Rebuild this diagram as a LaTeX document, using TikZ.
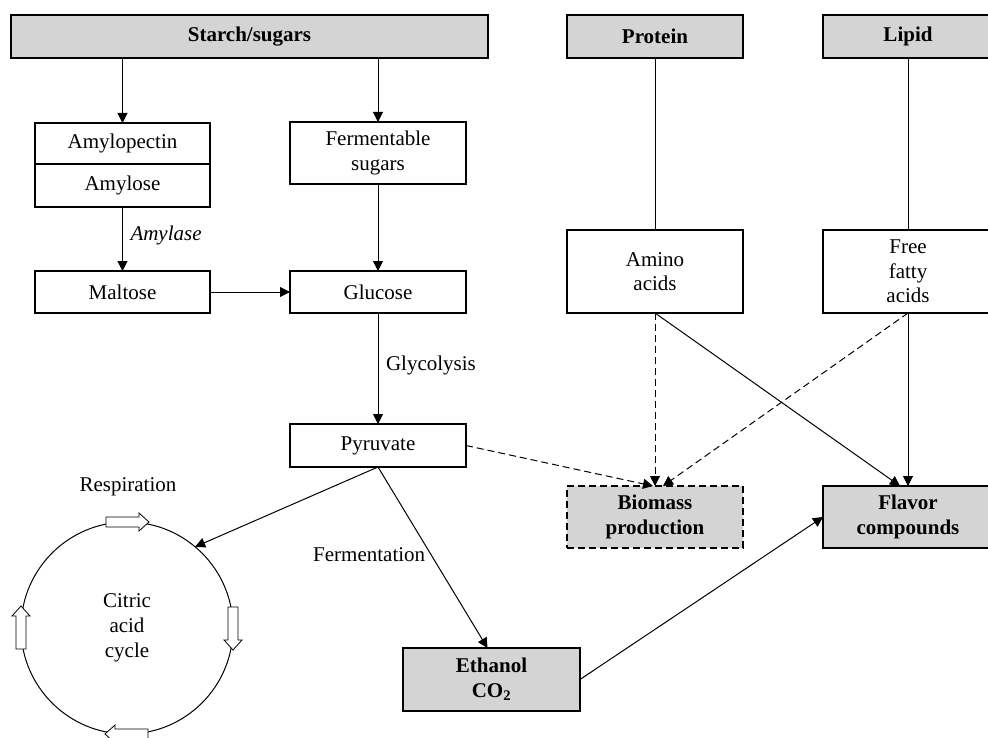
\documentclass[tikz,border=0pt]{standalone}
\usepackage{fontspec}
\setmainfont{Liberation Serif}
\usetikzlibrary{arrows.meta}
\definecolor{boxgray}{RGB}{212,212,212}
\begin{document}
\begin{tikzpicture}[x=1pt,y=-1pt,
  every node/.style={font=\fontsize{21}{24.5}\selectfont, inner sep=0pt, outer sep=0pt},
  box/.style={draw, line width=1.1pt, rectangle, align=center},
  gbox/.style={box, fill=boxgray, font=\fontsize{21}{24.5}\selectfont\bfseries},
  arr/.style={line width=1pt, -{Triangle[length=10pt,width=10pt]}},
  dsh/.style={arr, dash pattern=on 7pt off 4pt},
  plain/.style={line width=1pt},
  blockarr/.pic={\draw[fill=white,line width=0.8pt] (-21,-5) -- (12,-5) -- (12,-9) -- (22,0) -- (12,9) -- (12,5) -- (-21,5) -- cycle;}
]
\useasboundingbox (0,0) rectangle (988,738);

% top source boxes
\node[gbox, minimum width=477pt, minimum height=43pt] (starch) at (249.5,36.5) {Starch/sugars};
\node[gbox, minimum width=176pt, minimum height=43pt] (protein) at (655,36.5) {Protein};
\node[gbox, minimum width=170pt, minimum height=43pt] (lipid) at (908,36.5) {Lipid};

% starch branch
\node[box, minimum width=175pt, minimum height=41pt] (amp) at (122.5,143.5) {Amylopectin};
\node[box, minimum width=175pt, minimum height=43pt] (amy) at (122.5,185.5) {Amylose};
\node[box, minimum width=176pt, minimum height=62pt] (ferm) at (378,153) {Fermentable\\sugars};
\node[box, minimum width=175pt, minimum height=42pt] (mal) at (122.5,292) {Maltose};
\node[box, minimum width=176pt, minimum height=42pt] (glu) at (378,292) {Glucose};
\node[box, minimum width=176pt, minimum height=43pt] (pyr) at (378,445.5) {Pyruvate};

% protein / lipid branch
\node[box, minimum width=176pt, minimum height=83pt] (ami) at (655,271.5) {Amino\\acids};
\node[box, minimum width=170pt, minimum height=83pt] (ffa) at (908,271.5) {Free\\fatty\\acids};

% products
\node[gbox, dash pattern=on 7pt off 4pt, minimum width=176pt, minimum height=62pt] (bio) at (655,517) {Biomass\\production};
\node[gbox, minimum width=170pt, minimum height=62pt] (flv) at (908,517) {Flavor\\compounds};
\node[gbox, minimum width=177pt, minimum height=63pt] (eth) at (491.5,679.5) {Ethanol\\CO\textsubscript{2}};

% citric acid cycle
\node[draw, circle, line width=1pt, minimum size=212pt, align=center, font=\fontsize{21}{25}\selectfont] (cyc) at (127,628) {Citric\\acid\\cycle};
\node (resp) at (128,487) {Respiration};
\pic at (cyc.north) {blockarr};
\pic[rotate=-90] at (cyc.east) {blockarr};
\pic[rotate=180] at (cyc.south) {blockarr};
\pic[rotate=90] at (cyc.west) {blockarr};

% connectors
\draw[arr] (amp.north |- starch.south) -- (amp.north);
\draw[arr] (ferm.north |- starch.south) -- (ferm.north);
\draw[arr] (amy.south) -- node[right=8pt, pos=0.45, font=\fontsize{21}{24.5}\selectfont\itshape] {Amylase} (mal.north);
\draw[arr] (ferm.south) -- (glu.north);
\draw[arr] (mal.east) -- (glu.west);
\draw[arr] (glu.south) -- node[right=8pt, pos=0.47] {Glycolysis} (pyr.north);
\draw[arr] (pyr.south) -- (cyc.50);
\draw[arr] (pyr.south) -- node[left=6pt, pos=0.486] {Fermentation} ([xshift=-4pt]eth.north);
\draw[plain] (protein.south) -- (ami.north);
\draw[plain] (lipid.south) -- (ffa.north);
\draw[arr] (ami.south) -- ([xshift=-8pt]flv.north);
\draw[arr] (ffa.south) -- (flv.north);
\draw[dsh] (ami.south) -- (bio.north);
\draw[dsh] (ffa.south) -- ([xshift=8pt]bio.north);
\draw[dsh] (pyr.east) -- ([xshift=-2pt]bio.north);
\draw[arr] (eth.east) -- (flv.west);
\end{tikzpicture}
\end{document}
